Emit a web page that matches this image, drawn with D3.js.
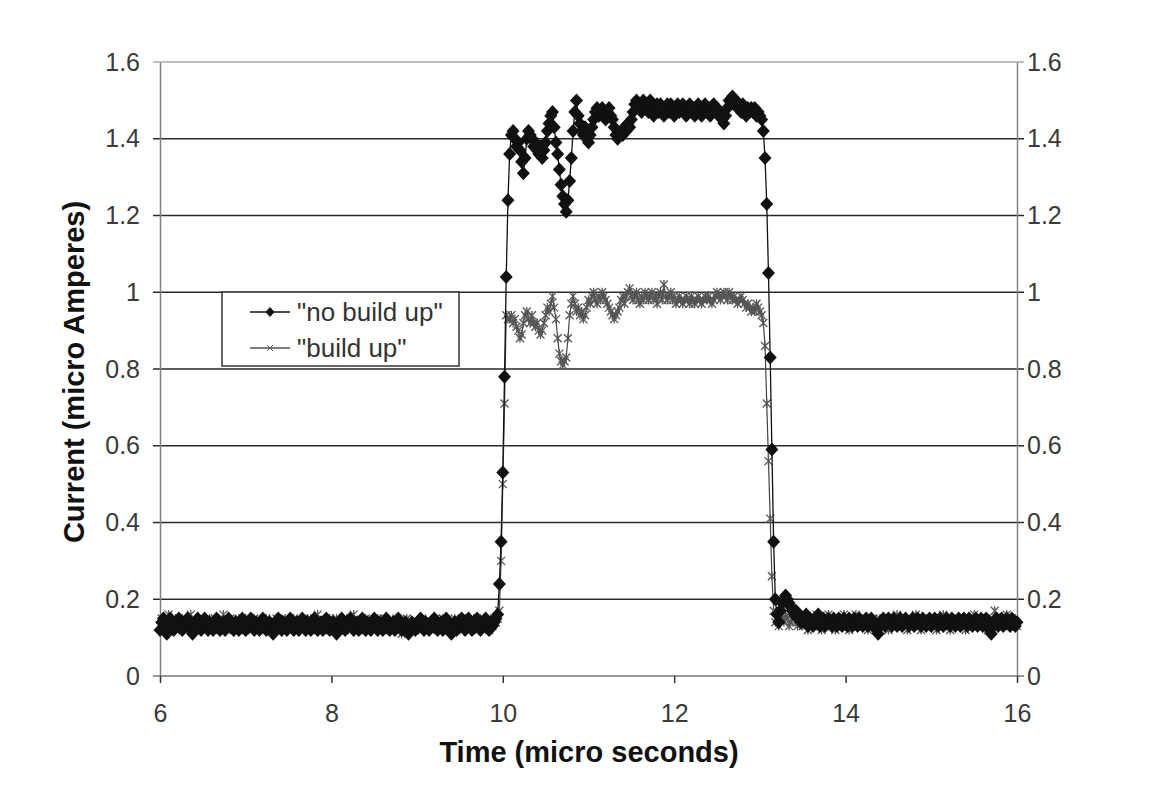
<!DOCTYPE html>
<html><head><meta charset="utf-8">
<script src="https://cdn.jsdelivr.net/npm/d3@7"></script>
<style>body{margin:0;background:#fff} svg{display:block} text{font-family:"Liberation Sans",Arial,sans-serif}</style>
</head><body><svg id="chart" width="1150" height="805"></svg>
<script>
// sampling of the recorded traces (micro seconds)
const timeStart = 6, timeStep = 0.02;

// "no build up" current (micro Amperes), one value per sample
const noBuildUp = [
 .12,.14,.15,.13,.11, .13,.15,.14,.12,.13, .14,.15,.13,.12,.14, .13,.15,.14,.12,.11, .13,.14,.15,.13,.12,
 .14,.15,.13,.12,.14, .13,.12,.14,.15,.13, .12,.13,.14,.12,.13, .15,.14,.13,.12,.14, .13,.12,.14,.15,.13,
 .12,.13,.14,.15,.13, .12,.14,.13,.12,.13, .15,.14,.12,.13,.14, .12,.11,.13,.14,.15, .13,.12,.14,.13,.12,
 .13,.15,.14,.12,.13, .14,.12,.13,.15,.13, .12,.14,.13,.12,.14, .15,.13,.12,.13,.14, .12,.13,.15,.14,.12,
 .13,.14,.12,.11,.13, .14,.15,.13,.12,.14, .13,.15,.14,.12,.13, .14,.12,.13,.15,.13, .12,.14,.13,.12,.14,
 .15,.13,.12,.14,.13, .12,.14,.15,.13,.12, .13,.14,.12,.13,.15, .14,.12,.13,.14,.12, .11,.13,.14,.13,.12,
 .13,.14,.15,.13,.12, .14,.13,.12,.14,.13, .15,.14,.12,.13,.14, .12,.13,.15,.14,.12, .11,.13,.14,.12,.13,
 .14,.15,.13,.12,.14, .15,.13,.12,.14,.13, .15,.14,.12,.13,.14, .15,.13,.12,.14,.13, .14,.15,.16,.24,.35,
 .53,.78,1.04,1.24,1.36, 1.41,1.42,1.40,1.38,1.39, 1.37,1.34,1.31,1.35,1.40, 1.42,1.41,1.40,1.38,1.39, 1.37,1.36,1.38,1.35,1.37,
 1.39,1.42,1.44,1.46,1.47, 1.43,1.39,1.36,1.32,1.28, 1.25,1.23,1.21,1.24,1.29, 1.35,1.42,1.47,1.50,1.46, 1.44,1.42,1.41,1.43,1.40,
 1.39,1.41,1.43,1.45,1.47, 1.48,1.46,1.47,1.48,1.46, 1.45,1.47,1.48,1.46,1.45, 1.43,1.41,1.40,1.41,1.42, 1.41,1.43,1.42,1.44,1.43,
 1.45,1.47,1.49,1.50,1.48, 1.49,1.47,1.50,1.48,1.49, 1.47,1.50,1.48,1.46,1.48, 1.49,1.47,1.49,1.48,1.46, 1.48,1.49,1.47,1.49,1.48,
 1.46,1.48,1.49,1.47,1.48, 1.49,1.47,1.46,1.48,1.49, 1.47,1.48,1.46,1.47,1.49, 1.48,1.46,1.48,1.49,1.47, 1.48,1.46,1.48,1.49,1.47,
 1.48,1.46,1.47,1.45,1.44, 1.46,1.48,1.50,1.49,1.51, 1.49,1.50,1.48,1.49,1.47, 1.49,1.48,1.46,1.48,1.47, 1.48,1.47,1.48,1.46,1.47,
 1.46,1.45,1.42,1.35,1.23, 1.05,.83,.59,.35,.20, .16,.14,.17,.19,.20, .21,.20,.19,.18,.17, .16,.17,.15,.16,.14,
 .15,.14,.16,.13,.15, .14,.13,.15,.14,.16, .13,.14,.15,.13,.14, .15,.14,.13,.15,.14, .13,.15,.14,.13,.15,
 .14,.13,.15,.14,.13, .15,.14,.13,.15,.14, .13,.14,.15,.13,.14, .15,.13,.14,.12,.11, .13,.14,.15,.13,.14,
 .15,.14,.13,.15,.14, .13,.14,.15,.13,.14, .15,.14,.13,.14,.15, .13,.14,.15,.14,.13, .15,.14,.13,.14,.15,
 .13,.14,.15,.14,.13, .15,.14,.13,.14,.15, .14,.13,.15,.14,.13, .14,.15,.13,.14,.15, .14,.13,.15,.14,.13,
 .14,.15,.13,.14,.15, .13,.14,.15,.13,.12, .11,.13,.14,.15,.13, .14,.15,.13,.14,.15, .14,.13,.15,.14,.13,
 .14
];

// "build up" current (micro Amperes), one value per sample
const buildUp = [
 .13,.15,.12,.14,.13, .16,.14,.12,.13,.15, .14,.12,.13,.15,.14, .13,.12,.14,.16,.13, .14,.12,.13,.15,.14,
 .12,.13,.15,.14,.13, .12,.14,.15,.13,.14, .12,.13,.16,.14,.12, .13,.15,.14,.12,.13, .14,.15,.13,.12,.14,
 .15,.13,.12,.14,.13, .15,.14,.12,.13,.14, .13,.12,.15,.14,.13, .14,.12,.13,.15,.14, .12,.14,.13,.15,.13,
 .12,.14,.13,.15,.14, .12,.13,.14,.13,.15, .14,.12,.13,.15,.13, .12,.14,.16,.13,.12, .14,.13,.12,.14,.15,
 .14,.12,.13,.15,.14, .13,.12,.14,.13,.15, .12,.13,.14,.16,.13, .12,.14,.13,.12,.14, .15,.13,.12,.14,.13,
 .13,.14,.15,.12,.14, .13,.15,.12,.14,.13, .12,.14,.13,.15,.14, .12,.11,.13,.14,.15, .13,.12,.14,.13,.12,
 .14,.12,.13,.15,.14, .12,.14,.13,.12,.14, .13,.15,.13,.12,.14, .15,.13,.12,.13,.14, .12,.13,.15,.14,.13,
 .12,.14,.13,.15,.14, .13,.12,.14,.15,.13, .14,.12,.13,.14,.15, .13,.14,.12,.14,.13, .15,.14,.15,.17,.30,
 .50,.71,.94,.93,.93, .94,.92,.93,.91,.90, .88,.89,.92,.94,.95, .93,.92,.94,.92,.91, .92,.90,.89,.90,.92,
 .94,.96,.95,.97,.99, .96,.93,.88,.84,.82, .81,.82,.83,.88,.94, .97,.99,.97,.95,.96, .94,.95,.93,.94,.96,
 .98,.97,.99,1.00,.98, .97,.99,.98,1.00,.99, .98,.97,.96,.95,.94, .93,.94,.95,.96,.98, .99,.97,.99,1.00,1.01,
 .99,.98,.99,1.00,.98, .97,.99,.98,1.00,.99, .98,.99,1.00,.98,.99, .97,.99,1.00,.98,1.02, .99,.98,.99,1.00,.98,
 .99,.97,.98,.99,.98, .97,.98,.99,.98,.97, .99,.98,.97,.98,.99, .98,.97,.98,.99,.98, .99,.98,.97,.98,.99,
 1.00,.99,.98,.99,1.00, .99,.98,1.00,.99,.98, .99,.98,.97,.98,.99, .98,.97,.96,.97,.96, .95,.96,.95,.97,.96,
 .95,.94,.92,.86,.71, .56,.41,.26,.17,.14, .15,.13,.16,.15,.14, .16,.15,.13,.14,.16, .15,.14,.13,.15,.14,
 .13,.15,.14,.12,.14, .15,.13,.14,.16,.13, .14,.12,.15,.14,.13, .16,.14,.13,.15,.12, .14,.13,.15,.14,.16,
 .13,.14,.12,.15,.14, .13,.16,.14,.13,.15, .14,.13,.15,.12,.14, .13,.15,.14,.12,.13, .15,.14,.13,.15,.14,
 .12,.14,.15,.13,.14, .16,.13,.14,.15,.13, .14,.12,.14,.15,.13, .14,.16,.13,.14,.12, .15,.14,.13,.15,.14,
 .13,.15,.14,.12,.14, .13,.15,.16,.14,.13, .14,.12,.15,.13,.14, .15,.14,.13,.15,.14, .12,.14,.15,.13,.14,
 .16,.14,.13,.15,.14, .13,.15,.14,.12,.14, .13,.15,.17,.14,.13, .14,.15,.13,.14,.16, .13,.14,.15,.13,.14,
 .13
];

const xTickValues = [6, 8, 10, 12, 14, 16];
const yTickValues = [0, 0.2, 0.4, 0.6, 0.8, 1, 1.2, 1.4, 1.6];
const seriesLabels = ['"no build up"', '"build up"'];
const xTitle = 'Time (micro seconds)';
const yTitle = 'Current (micro Amperes)';

const svg = d3.select('#chart');
const L = 160, R = 1017, T = 62, B = 676;
const x = d3.scaleLinear().domain([6, 16]).range([L, R]);
const y = d3.scaleLinear().domain([0, 1.6]).range([B, T]);
const toPts = arr => arr.map((v, i) => ({ t: timeStart + i * timeStep, v }));

// gridlines (extend past both axes as ticks)
svg.append('g').selectAll('line').data(yTickValues).join('line')
  .attr('x1', L - 7).attr('x2', R + 7)
  .attr('y1', d => y(d)).attr('y2', d => y(d))
  .attr('stroke', d => d === 1.6 ? '#aaa' : (d === 0 ? '#777' : '#2a2a2a'))
  .attr('stroke-width', 1.5);

// left axis
const gl = svg.append('g').attr('transform', `translate(${L},0)`)
  .call(d3.axisLeft(y).tickValues(yTickValues).tickFormat(d3.format('')).tickSize(7).tickSizeOuter(0).tickPadding(13));
// right axis
const gr = svg.append('g').attr('transform', `translate(${R},0)`)
  .call(d3.axisRight(y).tickValues(yTickValues).tickFormat(d3.format('')).tickSize(7).tickSizeOuter(0).tickPadding(3));
// bottom axis
const gb = svg.append('g').attr('transform', `translate(0,${B})`)
  .call(d3.axisBottom(x).tickValues(xTickValues).tickFormat(d3.format('')).tickSize(7).tickSizeOuter(0).tickPadding(21));

[gl, gr].forEach(g => {
  g.select('.domain').attr('stroke', '#808080').attr('stroke-width', 1.5);
  g.selectAll('.tick line').attr('stroke', 'none');
});
gb.select('.domain').attr('stroke', 'none');
gb.selectAll('.tick line').attr('stroke', '#333').attr('stroke-width', 1.5);
[gl, gr, gb].forEach(g => g.selectAll('.tick text')
  .attr('fill', '#3a3a3a').style('font-size', '25px').style('font-family', '"Liberation Sans", Arial, sans-serif'));

// titles
svg.append('text').text(xTitle)
  .attr('x', 589).attr('y', 762).attr('text-anchor', 'middle')
  .style('font-size', '29px').style('font-weight', 'bold').attr('fill', '#111');
svg.append('text').text(yTitle)
  .attr('transform', 'translate(84,372) rotate(-90)').attr('text-anchor', 'middle')
  .style('font-size', '29px').style('font-weight', 'bold').attr('fill', '#111');

const line = d3.line().x(d => x(d.t)).y(d => y(d.v));
const diamond = 'M0,-7L6.5,0L0,7L-6.5,0Z';
const star = 'M-4,-4L4,4M-4,4L4,-4M0,-4.5L0,4.5';

// build up series (grey x markers)
const bu = toPts(buildUp);
svg.append('path').datum(bu).attr('d', line).attr('fill', 'none').attr('stroke', '#444').attr('stroke-width', 1.2);
svg.append('g').selectAll('path').data(bu).join('path')
  .attr('transform', d => `translate(${x(d.t)},${y(d.v)})`).attr('d', star)
  .attr('fill', 'none').attr('stroke', '#555').attr('stroke-width', 1.3);

// no build up series (black diamonds)
const nb = toPts(noBuildUp);
svg.append('path').datum(nb).attr('d', line).attr('fill', 'none').attr('stroke', '#111').attr('stroke-width', 1.3);
svg.append('g').selectAll('path').data(nb).join('path')
  .attr('transform', d => `translate(${x(d.t)},${y(d.v)})`).attr('d', diamond)
  .attr('fill', '#111');

// legend
const lg = svg.append('g');
lg.append('rect').attr('x', 222).attr('y', 292).attr('width', 237).attr('height', 74)
  .attr('fill', '#fff').attr('stroke', '#333').attr('stroke-width', 1.5);
const rows = [312, 348];
seriesLabels.forEach((lab, i) => {
  const yy = rows[i];
  lg.append('line').attr('x1', 250).attr('x2', 290).attr('y1', yy).attr('y2', yy)
    .attr('stroke', i === 0 ? '#111' : '#555').attr('stroke-width', 1.5);
  if (i === 0) lg.append('path').attr('d', 'M0,-5L4.5,0L0,5L-4.5,0Z').attr('transform', `translate(270,${yy})`).attr('fill', '#111');
  else lg.append('path').attr('d', 'M-3,-3L3,3M-3,3L3,-3').attr('transform', `translate(270,${yy})`).attr('stroke', '#555').attr('fill', 'none');
  lg.append('text').text(lab).attr('x', 297).attr('y', yy).attr('dy', '0.35em')
    .style('font-size', '26px').attr('fill', '#333');
});
</script>
</body></html>
